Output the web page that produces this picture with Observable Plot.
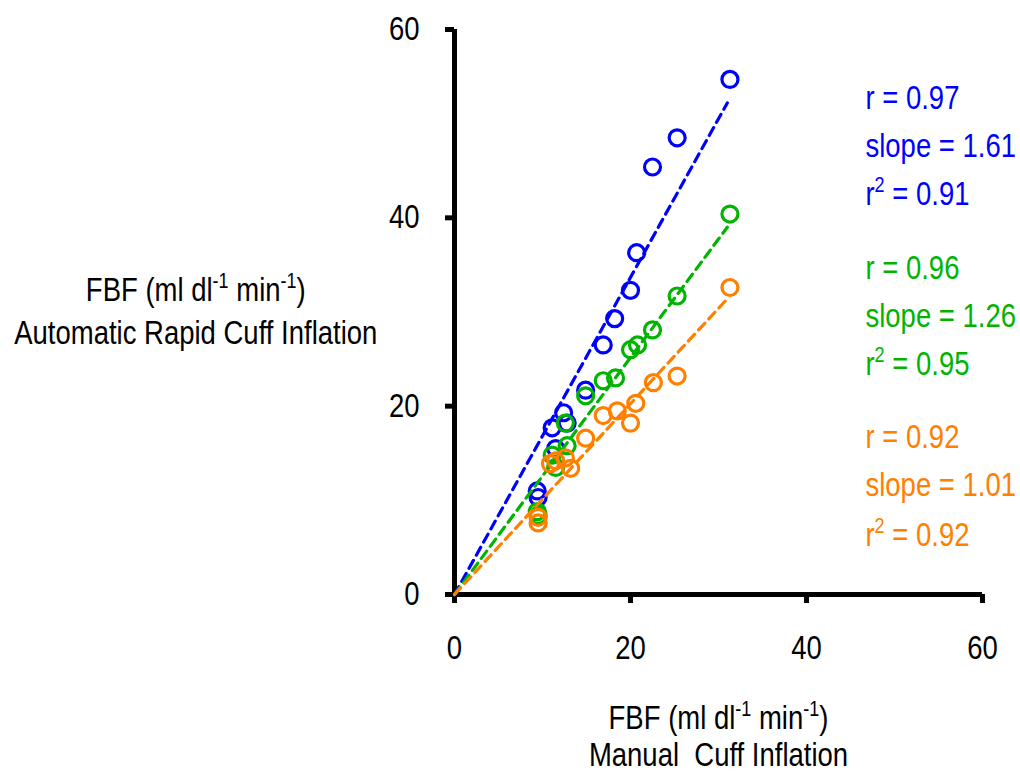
<!DOCTYPE html>
<html><head><meta charset="utf-8">
<script src="https://cdn.jsdelivr.net/npm/d3@7"></script>
<script src="https://cdn.jsdelivr.net/npm/@observablehq/plot@0.6"></script>
<style>
body{margin:0;background:#fff}
svg text{font-family:"Liberation Sans",Arial,sans-serif}
</style>
</head><body><div id="chart"></div>
<script>
// Series names and colours
const seriesNames = ["blue", "green", "orange"];
const seriesColors = ["#0000FF", "#00B400", "#FF8000"];

// Manual cuff inflation FBF (x) and automatic rapid cuff inflation FBF (y)
const blueX = [31.3, 25.3, 22.5, 20.7, 20.0, 18.2, 16.9, 14.9, 12.4, 12.8, 11.1, 11.5, 9.4, 9.5];
const blueY = [54.7, 48.5, 45.4, 36.3, 32.3, 29.3, 26.5, 21.7, 19.3, 18.2, 17.7, 15.5, 11.0, 10.3];
const greenX = [31.3, 25.3, 22.5, 20.8, 20.0, 18.3, 16.9, 14.9, 12.6, 12.8, 11.1, 11.5, 9.4, 9.5];
const greenY = [40.4, 31.7, 28.1, 26.5, 26.0, 23.0, 22.7, 21.1, 18.2, 15.8, 14.8, 13.5, 8.8, 8.4];
const orangeX = [31.3, 25.3, 22.6, 20.6, 20.0, 18.5, 16.9, 14.9, 13.2, 12.6, 11.5, 10.9, 9.5, 9.5];
const orangeY = [32.6, 23.2, 22.5, 20.3, 18.2, 19.5, 19.0, 16.6, 13.4, 14.5, 14.2, 13.9, 8.2, 7.6];

// Regression (dashed) lines, through the origin
const fitX = [0, 31.0];
const blueFitY = [0, 52.2];
const greenFitY = [0, 39.0];
const orangeFitY = [0, 31.4];

// Statistics labels
const blueStats = ["r = 0.97", "slope = 1.61", "r^2 = 0.91"];
const greenStats = ["r = 0.96", "slope = 1.26", "r^2 = 0.95"];
const orangeStats = ["r = 0.92", "slope = 1.01", "r^2 = 0.92"];
const blueStatsY = [52.7, 47.6, 42.5];
const greenStatsY = [34.6, 29.5, 24.4];
const orangeStatsY = [16.7, 11.6, 6.3];
const statsX = 46.7;

// Axis ticks and titles
const xTicks = [0, 20, 40, 60];
const yTicks = [0, 20, 40, 60];
const yTitle = ["FBF (ml dl^-1 min^-1)", "Automatic Rapid Cuff Inflation"];
const yTitleY = [32.3, 27.7];
const yTitleX = -29.4;
const xTitle = ["FBF (ml dl^-1 min^-1)", "Manual  Cuff Inflation"];
const xTitleY = [-13.1, -17.1];
const xTitleX = 30.0;

const seriesData = [
  {x: blueX, y: blueY, fy: blueFitY, stats: blueStats, sy: blueStatsY},
  {x: greenX, y: greenY, fy: greenFitY, stats: greenStats, sy: greenStatsY},
  {x: orangeX, y: orangeY, fy: orangeFitY, stats: orangeStats, sy: orangeStatsY}
];

const FS = 27.5;
const marks = [
  Plot.ruleY([0], {stroke: "black", strokeWidth: 5}),
  Plot.ruleX([0], {stroke: "black", strokeWidth: 5}),
  Plot.axisX({ticks: xTicks, tickSize: 9, tickPadding: 34, fontSize: FS, strokeWidth: 5, stroke: "black", fill: "black", label: null}),
  Plot.axisY({ticks: yTicks, tickSize: 9, tickPadding: 26, fontSize: FS, strokeWidth: 5, stroke: "black", fill: "black", label: null})
];

seriesData.forEach((s, k) => {
  const color = seriesColors[k];
  const line = fitX.map((x, i) => ({x, y: s.fy[i]}));
  const pts = s.x.map((x, i) => ({x, y: s.y[i]}));
  const st = s.stats.map((t, i) => ({t, y: s.sy[i]}));
  marks.push(Plot.line(line, {x: "x", y: "y", stroke: color, strokeWidth: 3.2, strokeDasharray: "9,6"}));
  marks.push(Plot.dot(pts, {x: "x", y: "y", stroke: color, r: 8, strokeWidth: 3.2, fill: "none"}));
  marks.push(Plot.text(st, {x: () => statsX, y: "y", text: "t", fill: color, fontSize: FS, textAnchor: "start"}));
});

marks.push(Plot.text(yTitle.map((t, i) => ({t, y: yTitleY[i]})), {x: () => yTitleX, y: "y", text: "t", fill: "black", fontSize: FS}));
marks.push(Plot.text(xTitle.map((t, i) => ({t, y: xTitleY[i]})), {x: () => xTitleX, y: "y", text: "t", fill: "black", fontSize: FS}));

const chart = Plot.plot({
  width: 1020,
  height: 774,
  marginLeft: 454,
  marginRight: 38,
  marginTop: 29,
  marginBottom: 180,
  x: {domain: [0, 60]},
  y: {domain: [0, 60]},
  style: {background: "white", color: "black", overflow: "visible", fontFamily: "'Liberation Sans', Arial, sans-serif"},
  marks
});

// Superscripts: turn "^xx" into raised tspans
d3.select(chart).selectAll("text").each(function() {
  const t = this.textContent;
  if (!t.includes("^")) return;
  const parts = t.split(/(\^[^\s)]+)/);
  const el = d3.select(this);
  el.text(null);
  let raised = false;
  parts.forEach(p => {
    if (!p) return;
    if (p.startsWith("^")) {
      el.append("tspan").attr("dy", -11).attr("font-size", 18).text(p.slice(1));
      raised = true;
    } else {
      el.append("tspan").attr("dy", raised ? 11 : 0).text(p);
      raised = false;
    }
  });
});

document.getElementById("chart").appendChild(chart);

// The reference typeface is drawn vertically stretched: stretch each label about its centre
d3.select(chart).selectAll("text").each(function() {
  const b = this.getBBox();
  const cy = b.y + b.height / 2;
  const prev = this.getAttribute("transform") || "";
  this.setAttribute("transform", `${prev} translate(0,${cy}) scale(1,1.18) translate(0,${-cy})`.trim());
});
</script>
</body></html>
